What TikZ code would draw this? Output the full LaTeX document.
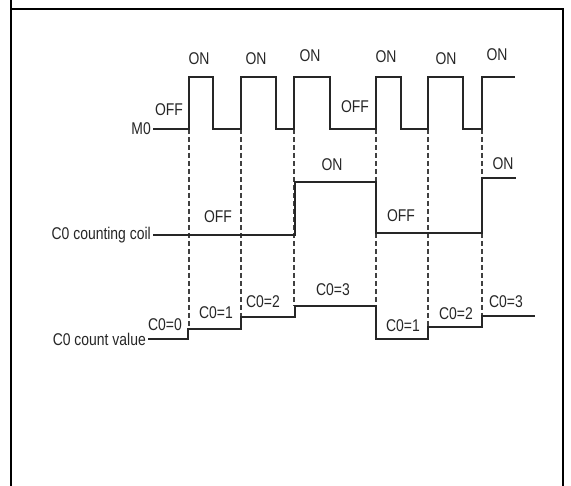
\documentclass[tikz,border=0pt]{standalone}
\usepackage{fontspec}
\setmainfont{Liberation Sans}[FakeStretch=0.82]
\begin{document}
\begin{tikzpicture}[x=1pt,y=-1pt,font=\fontsize{17}{19}\selectfont,
  wave/.style={line width=1.4pt,black!85},
  guide/.style={line width=1.1pt,black!75,dash pattern=on 5pt off 3pt},
  lbl/.style={inner sep=0pt,text=black!85}]
\useasboundingbox (0,0) rectangle (571,486);
% frame of the cell
\draw[line width=2pt] (11,0) -- (11,486) (11,9) -- (563,9) -- (563,486);
% row names
\node[lbl,inner sep=2pt,anchor=east] (m0) at (153,129) {M0};
\node[lbl,inner sep=2pt,anchor=east] (coil) at (153,235) {C0 counting coil};
\node[lbl,inner sep=2pt,anchor=east] (cnt) at (148,339) {C0 count value};
% dashed guides at each rising edge of M0
\foreach \x/\y in {189/329,241/317,294/306,376/306,428/327,482/316}
  \draw[guide] (\x,129) -- (\x,\y);
% waveforms
\draw[wave] (m0.east) -| (189,77) -| (213,129) -| (241,77) -| (276,129) -| (294,77)
  -| (330,129) -| (376,77) -| (401,129) -| (428,77) -| (463,129) -| (482,77) -- (515,77);
\draw[wave] (coil.east) -| (295,182) -| (376,233) -| (482,178) -- (516,178);
\draw[wave] (cnt.east) -| (188,329) -| (241,317) -| (295,306) -| (376,339)
  -| (428,327) -| (482,316) -- (535,316);
% state labels
\foreach \x/\y [count=\i] in {199/59,256/59,310/56,386/57,446/59,497/55}
  \node[lbl] (on\i) at (\x,\y) {ON};
\node[lbl] (off1) at (169,110) {OFF};
\node[lbl] (off2) at (355,107) {OFF};
\node[lbl] (coiloff1) at (218,217) {OFF};
\node[lbl] (coilon1) at (332,165) {ON};
\node[lbl] (coiloff2) at (401,216) {OFF};
\node[lbl] (coilon2) at (503,164) {ON};
\foreach \x/\y/\v [count=\i] in {165/325/0,216/313/1,263/302/2,333/290/3,403/326/1,456/314/2,506/302/3}
  \node[lbl] (val\i) at (\x,\y) {C0=\v};
\end{tikzpicture}
\end{document}
